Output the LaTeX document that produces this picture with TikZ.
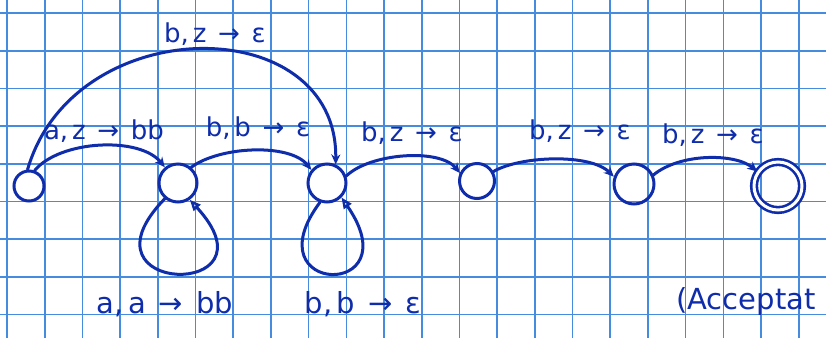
\documentclass[tikz,border=0pt]{standalone}
\usepackage{fontspec}
\setmainfont{DejaVu Sans}
\usetikzlibrary{arrows.meta}
\definecolor{ink}{RGB}{15,45,170}
\definecolor{gridc}{RGB}{70,140,222}
\newcommand\trn[3]{#1,\hspace{0.15em}#2\hspace{0.45em}→\hspace{0.45em}#3}
\begin{document}
\begin{tikzpicture}[x=1pt,y=-1pt,
  gridline/.style={gridc, line width=1.6pt},
  stt/.style={draw=ink, circle, line width=3pt, inner sep=0pt},
  edge/.style={ink, line width=3pt, line cap=round, -{Stealth[length=10pt,width=9pt]}},
  loopedge/.style={ink, line width=3pt, line cap=round, -{Triangle[open,length=11pt,width=9pt,line width=2.4pt]}},
  lbl/.style={text=ink, font=\fontsize{26}{30}\selectfont, inner sep=0pt},
  blbl/.style={text=ink, font=\fontsize{29}{33}\selectfont, inner sep=0pt}]
\useasboundingbox (0,0) rectangle (826,338);
\fill[white] (0,0) rectangle (826,338);
\begin{scope}
\clip (0,0) rectangle (826,338);
\foreach \i in {0,...,21} \draw[gridline] ({7+37.7*\i},0) -- ({7+37.7*\i},338);
\foreach \j in {0,...,8} \draw[gridline] (0,{13+37.7*\j}) -- (826,{13+37.7*\j});

% states
\node[stt, minimum size=30pt] (q0) at (29,186) {};
\node[stt, minimum size=38pt] (q1) at (178,183) {};
\node[stt, minimum size=38pt] (q2) at (327,183) {};
\node[stt, minimum size=35pt] (q3) at (477,181) {};
\node[stt, minimum size=40pt] (q4) at (634,184) {};
\node[stt, minimum size=48pt, double=white, double distance=3pt, line width=2.6pt] (q5) at (778,186) {};

% transitions
\draw[edge] (q0.70) .. controls (60,140) and (140,136) .. (q1.130);
\draw[edge] (q1.50) .. controls (220,146) and (290,143) .. (q2.140);
\draw[edge] (q0.95) .. controls (74,10) and (338,10) .. (q2.65);
\draw[edge] (q2.20) .. controls (370,153) and (440,148) .. (q3.155);
\draw[edge] (q3.30) .. controls (520,156) and (590,153) .. (q4.160);
\draw[edge] (q4.25) .. controls (680,153) and (735,153) .. (q5.145);
\draw[loopedge] (q1.230) .. controls (70,296) and (282,300) .. (q1.305);
\draw[loopedge] (q2.250) .. controls (250,296) and (412,300) .. (q2.315);

% labels
\node[lbl] (t02) at (215,34) {\trn{b}{z}{ε}};
\node[lbl] (t01) at (104,131) {\trn{a}{z}{bb}};
\node[lbl] (t12) at (258,128) {\trn{b}{b}{ε}};
\node[lbl] (t23) at (412,133) {\trn{b}{z}{ε}};
\node[lbl] (t34) at (580,131) {\trn{b}{z}{ε}};
\node[lbl] (t45) at (713,135) {\trn{b}{z}{ε}};
\node[blbl] (s11) at (165,304) {\trn{a}{a}{bb}};
\node[blbl] (s22) at (363,304) {\trn{b}{b}{ε}};
\node[blbl, anchor=west] (acc) at (676,302) {(Acceptat};
\end{scope}
\end{tikzpicture}
\end{document}
